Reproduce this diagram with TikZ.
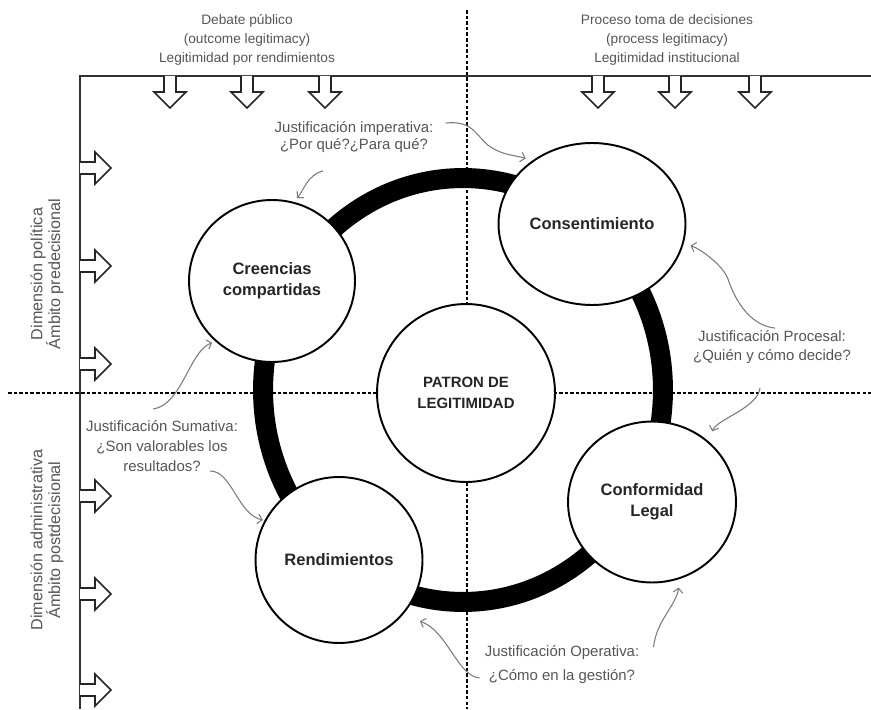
\documentclass[tikz,border=0pt]{standalone}
\usepackage{fontspec}
\setmainfont{Liberation Sans}
\usetikzlibrary{shapes.geometric,arrows.meta}
\definecolor{lbl}{HTML}{555555}
\definecolor{arr}{HTML}{7A7A7A}
\tikzset{
  bubble/.style={draw,fill=white,line width=1.1pt,ellipse,inner sep=0pt,align=center,
    text=black!85,font=\bfseries\fontsize{9.4}{11.8}\selectfont},
  note/.style={inner sep=0pt,align=center,text=lbl,font=\fontsize{8.5}{10.8}\selectfont},
  side/.style={inner sep=0pt,align=center,text=lbl,font=\fontsize{7.8}{10.6}\selectfont},
  curvy/.style={draw=arr,line width=0.6pt,-{Straight Barb[length=2.5pt,width=5.5pt]}},
  guide/.style={line width=0.8pt,dash pattern=on 2pt off 1.2pt},
  blockarrow/.style={draw=black!85,fill=white,line width=0.9pt,line join=miter},
  downarr/.pic={\draw[blockarrow] (-6,0) -- (-6,16) -- (-16,16) -- (0,32) -- (16,16) -- (6,16) -- (6,0);},
  rightarr/.pic={\draw[blockarrow] (0,-6) -- (15,-6) -- (15,-16) -- (31,0) -- (15,16) -- (15,6) -- (0,6);}
}
\begin{document}
\begin{tikzpicture}[x=0.02cm,y=-0.02cm]
\useasboundingbox (0,0) rectangle (871,709);
\draw[guide] (467,10) -- (467,709);
\draw[guide] (8,393) -- (871,393);
\draw[line width=1.1pt,black!80] (80,709) -- (80,76) -- (871,76);
\foreach \ax in {170,247,325,598,675,755} \pic at (\ax,76) {downarr};
\foreach \ay in {168,266,364,496,594,690} \pic at (80,\ay) {rightarr};
\draw[line width=0.4cm] (463,390) ellipse [x radius=4cm,y radius=4.24cm];
\node[bubble,minimum width=3.32cm,minimum height=3.24cm] (cree) at (272,281) {Creencias\\compartidas};
\node[bubble,minimum width=3.74cm,minimum height=3.24cm] (cons) at (592,224) {Consentimiento};
\node[bubble,minimum size=3.56cm,font=\bfseries\fontsize{8.5}{12}\selectfont] (patr) at (466,393) {PATRON DE\\LEGITIMIDAD};
\node[bubble,minimum width=3.36cm,minimum height=3.22cm] (conf) at (652,502) {Conformidad\\Legal};
\node[bubble,minimum width=3.34cm,minimum height=3.32cm] (rend) at (339,560) {Rendimientos};
\node[side] (deb) at (247,40) {Debate público\\(outcome legitimacy)\\Legitimidad por rendimientos};
\node[side] (proc) at (667,40) {Proceso toma de decisiones\\(process legitimacy)\\Legitimidad institucional};
\node[side,rotate=90,font=\fontsize{9.2}{10}\selectfont] (dpol) at (47,274) {Dimensión política\\Ámbito predecisional};
\node[side,rotate=90,font=\fontsize{9.2}{10}\selectfont] (dadm) at (47,540) {Dimensión administrativa\\Ámbito postdecisional};
\node[note,font=\fontsize{8.5}{9.7}\selectfont] (jimp) at (354,137) {Justificación imperativa:\\¿Por qué?¿Para qué?};
\node[note] (jpro) at (772,347) {Justificación Procesal:\\¿Quién y cómo decide?};
\node[note,font=\fontsize{8.5}{11.4}\selectfont] (jsum) at (162,446) {Justificación Sumativa:\\¿Son valorables los\\resultados?};
\node[note,font=\fontsize{8.5}{13.7}\selectfont] (jope) at (562,665) {Justificación Operativa:\\¿Cómo en la gestión?};
% flechas de justificacion
\draw[curvy,shorten >=4pt] ([shift={(12,-14)}]jimp.east) .. controls +(29,-3) and +(-14,-9) .. ++(45,24) .. controls +(12,8) and +(-18,-5) .. (cons.133);
\draw[curvy,shorten >=3pt] ([shift={(-31,18)}]jimp.south) .. controls +(-16,4) and +(10,-10) .. (cree.75);
\draw[curvy,shorten >=4pt] ([shift={(3,-2)}]jpro.north) .. controls +(-27,-3) and +(6,18) .. ++(-47,-49) .. controls +(-5,-14) and +(16,5) .. (cons.-12);
\draw[curvy,shorten >=6pt] ([shift={(-12,24)}]jpro.south) .. controls +(-2,20) and +(8,-22) .. (conf.47);
\draw[curvy,shorten >=2pt] ([shift={(-9,-11)}]jsum.north) .. controls +(29,-4) and +(-26,9) .. (cree.227);
\draw[curvy,shorten >=1pt] ([shift={(48,-1)}]jsum.south) .. controls +(22,0) and +(-27,-6) .. (rend.152);
\draw[curvy,shorten >=1pt] ([shift={(-5,13)}]jope.west) .. controls +(-22,-2) and +(29,10) .. ([shift={(12,10)}]rend.-37);
\draw[curvy,shorten >=5pt] ([shift={(14,-18)}]jope.east) .. controls +(3,-27) and +(-4,27) .. (conf.-70);
\end{tikzpicture}
\end{document}
